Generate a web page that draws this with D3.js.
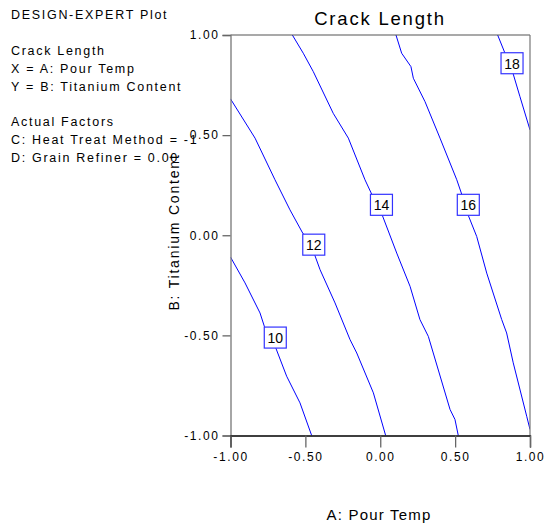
<!DOCTYPE html>
<html><head><meta charset="utf-8">
<script src="https://cdn.jsdelivr.net/npm/d3@7"></script>
<style>
body{margin:0;background:#fff;}
text{font-family:"Liberation Sans",Arial,sans-serif;}
</style></head>
<body><svg id="c" width="545" height="527"></svg>
<script>
// ---- data ----
const title = "Crack Length";
const xLabel = "A: Pour Temp";
const yLabel = "B: Titanium Content";
const infoLines = ["DESIGN-EXPERT Plot","Crack Length","X = A: Pour Temp","Y = B: Titanium Content","Actual Factors","C: Heat Treat Method = -1","D: Grain Refiner = 0.00"];
const xTicks = [-1, -0.5, 0, 0.5, 1];
const yTicks = [-1, -0.5, 0, 0.5, 1];
const levels = [10, 12, 14, 16, 18];
const contour10 = [[-1.00,-0.109],[-0.903,-0.238],[-0.803,-0.388],[-0.774,-0.455],[-0.701,-0.511],[-0.696,-0.566],[-0.625,-0.704],[-0.536,-0.837],[-0.458,-1.00]];
const contour12 = [[-1.00,0.681],[-0.836,0.485],[-0.703,0.277],[-0.603,0.127],[-0.518,0.011],[-0.444,-0.047],[-0.436,-0.102],[-0.402,-0.172],[-0.302,-0.338],[-0.202,-0.521],[-0.157,-0.588],[-0.046,-0.787],[0.036,-1.00]];
const contour14 = [[-0.587,1.00],[-0.514,0.909],[-0.447,0.817],[-0.314,0.609],[-0.213,0.485],[-0.102,0.277],[-0.057,0.205],[0.008,0.152],[0.014,0.099],[0.110,-0.089],[0.199,-0.255],[0.265,-0.421],[0.321,-0.505],[0.354,-0.588],[0.466,-0.870],[0.499,-0.920],[0.521,-1.00]];
const contour16 = [[0.105,1.00],[0.143,0.909],[0.205,0.842],[0.221,0.784],[0.299,0.667],[0.399,0.485],[0.511,0.277],[0.544,0.205],[0.588,0.152],[0.588,0.099],[0.644,-0.006],[0.711,-0.189],[0.811,-0.421],[0.844,-0.488],[0.888,-0.637],[0.978,-0.904],[1.00,-0.970]];
const contour18 = [[0.784,1.00],[0.833,0.909],[0.880,0.859],[0.888,0.805],[0.933,0.692],[1.00,0.526]];
const contours = [contour10, contour12, contour14, contour16, contour18];
const labelX = [-0.701, -0.444, 0.008, 0.588, 0.880];
const labelY = [-0.511, -0.047, 0.152, 0.152, 0.859];

// ---- drawing ----
const svg = d3.select("#c");
const L = 230.5, R = 530, T = 35, B = 435.5;
const x = d3.scaleLinear().domain([-1, 1]).range([L, R]);
const y = d3.scaleLinear().domain([-1, 1]).range([B, T]);
const fmt = v => d3.format(".2f")(v).replace("\u2212", "-");

// info text block
const infoY = [19, 54.5, 72.5, 90.5, 126, 144, 162];
svg.append("g").selectAll("text").data(infoLines).join("text")
  .attr("x", 11).attr("y", (d, i) => infoY[i])
  .attr("font-size", 12.5).attr("letter-spacing", 1.7).attr("fill", "#000")
  .text(d => d);

// title
svg.append("text").attr("x", 380).attr("y", 25).attr("text-anchor", "middle")
  .attr("font-size", 18.5).attr("letter-spacing", 1.8).text(title);

// contour lines
const line = d3.line().x(d => x(d[0])).y(d => y(d[1]));
svg.append("clipPath").attr("id", "pc").append("rect")
  .attr("x", L).attr("y", T).attr("width", R - L).attr("height", B - T);
svg.append("g").attr("clip-path", "url(#pc)").selectAll("path").data(contours).join("path")
  .attr("d", line).attr("fill", "none").attr("stroke", "#0000ff").attr("stroke-width", 1);

// frame: top and right
svg.append("line").attr("x1", L).attr("x2", R).attr("y1", T).attr("y2", T).attr("stroke", "#555").attr("stroke-width", 1.2);
svg.append("line").attr("x1", R).attr("x2", R).attr("y1", T).attr("y2", B).attr("stroke", "#777").attr("stroke-width", 1.2);

// y axis
const yAxis = svg.append("g").attr("transform", `translate(${L},0)`)
  .call(d3.axisLeft(y).tickValues(yTicks).tickFormat(fmt).tickSize(8).tickPadding(3));
yAxis.select(".domain").attr("stroke", "#777").attr("stroke-width", 1.3);
yAxis.selectAll(".tick line").attr("stroke", "#666").attr("stroke-width", 1.3);
yAxis.selectAll(".tick text").attr("font-size", 12).attr("letter-spacing", 1.6).attr("fill", "#000")
  .attr("font-family", "Liberation Sans, Arial, sans-serif");

// x axis
const xAxis = svg.append("g").attr("transform", `translate(0,${B})`)
  .call(d3.axisBottom(x).tickValues(xTicks).tickFormat(fmt).tickSize(12).tickPadding(5));
xAxis.select(".domain").attr("stroke", "#000").attr("stroke-width", 1.3);
xAxis.selectAll(".tick line").attr("stroke", "#666").attr("stroke-width", 1.3);
xAxis.selectAll(".tick text").attr("font-size", 12).attr("letter-spacing", 1.6).attr("fill", "#000")
  .attr("font-family", "Liberation Sans, Arial, sans-serif");

// axis titles
svg.append("text").attr("x", 379).attr("y", 520).attr("text-anchor", "middle")
  .attr("font-size", 15).attr("letter-spacing", 1.2).text(xLabel);
svg.append("text").attr("transform", "translate(179,232) rotate(-90)").attr("text-anchor", "middle")
  .attr("font-size", 14).attr("letter-spacing", 1.8).text(yLabel);

// contour labels
const lg = svg.append("g").selectAll("g").data(levels).join("g")
  .attr("transform", (d, i) => `translate(${x(labelX[i])},${y(labelY[i])})`);
lg.append("rect").attr("x", -11).attr("y", -10.5).attr("width", 22).attr("height", 21)
  .attr("fill", "#fff").attr("stroke", "#3333ff").attr("stroke-width", 1.2);
lg.append("text").attr("text-anchor", "middle").attr("y", 5.5).attr("font-size", 14).attr("fill", "#000").text(d => d);
</script></body></html>
